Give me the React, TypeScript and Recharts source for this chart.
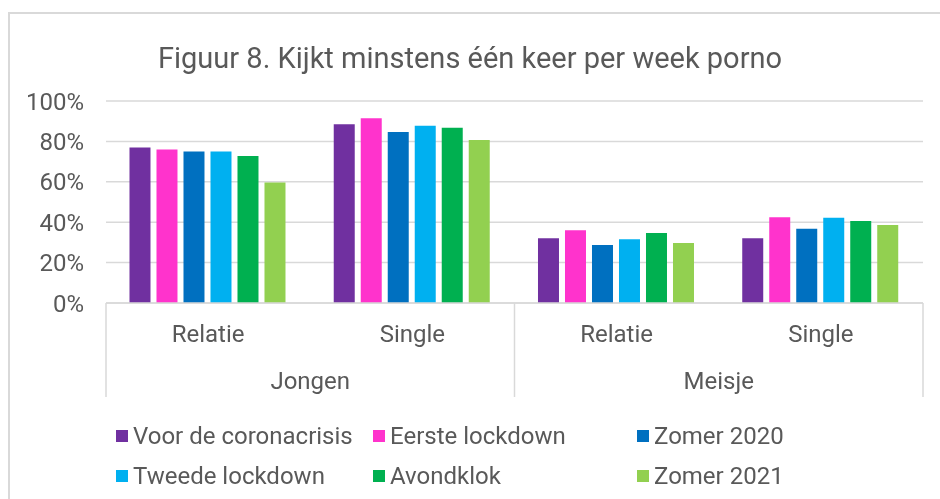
import React from "react";
import { BarChart, Bar, XAxis, YAxis, CartesianGrid, Legend } from "recharts";

const categories = ["Relatie", "Single", "Relatie", "Single"];
const groups = ["Jongen", "Jongen", "Meisje", "Meisje"];
const voorDeCoronacrisis = [77, 88.5, 32, 32];
const eersteLockdown = [76, 91.5, 36, 42.5];
const zomer2020 = [75, 84.7, 28.7, 36.7];
const tweedeLockdown = [75, 87.8, 31.6, 42.2];
const avondklok = [72.8, 86.8, 34.6, 40.6];
const zomer2021 = [59.6, 80.7, 29.7, 38.6];
const yTicks = [0, 20, 40, 60, 80, 100];

const seriesDefs = [
  { key: "v1", name: "Voor de coronacrisis", values: voorDeCoronacrisis, color: "#7030A0" },
  { key: "v2", name: "Eerste lockdown", values: eersteLockdown, color: "#FF33CC" },
  { key: "v3", name: "Zomer 2020", values: zomer2020, color: "#0070C0" },
  { key: "v4", name: "Tweede lockdown", values: tweedeLockdown, color: "#00B0F0" },
  { key: "v5", name: "Avondklok", values: avondklok, color: "#00B050" },
  { key: "v6", name: "Zomer 2021", values: zomer2021, color: "#92D050" },
];

const data = categories.map((c, i) => {
  const row: any = { cat: c, group: groups[i], id: i };
  seriesDefs.forEach((s) => (row[s.key] = s.values[i]));
  return row;
});

const TEXT = "#595959";
const GRID = "#D9D9D9";
const FONT = "Roboto, 'Noto Sans', sans-serif";
const FS = 24;

const CatTick = (props: any) => {
  const { x, y, payload, index, width, visibleTicksCount } = props;
  const n = visibleTicksCount || categories.length;
  const band = width ? width / n : 204;
  const i = index;
  const elems: any[] = [];
  elems.push(
    <text key="t" x={x} y={y + 31} textAnchor="middle" dominantBaseline="central" fill={TEXT} fontSize={FS} fontFamily={FONT}>
      {payload.value}
    </text>
  );
  const isGroupStart = i === 0 || groups[i] !== groups[i - 1];
  const isLast = i === n - 1;
  if (isGroupStart) {
    elems.push(<line key="l" x1={x - band / 2} x2={x - band / 2} y1={y} y2={y + 94} stroke={GRID} strokeWidth={1.5} />);
    elems.push(
      <text key="g" x={x + band / 2} y={y + 78} textAnchor="middle" dominantBaseline="central" fill={TEXT} fontSize={FS} fontFamily={FONT}>
        {groups[i]}
      </text>
    );
  }
  if (isLast) {
    elems.push(<line key="r" x1={x + band / 2} x2={x + band / 2} y1={y} y2={y + 94} stroke={GRID} strokeWidth={1.5} />);
  }
  return <g>{elems}</g>;
};

const legendPos = [
  { left: 116, top: 33 },
  { left: 373, top: 33 },
  { left: 637, top: 33 },
  { left: 116, top: 73 },
  { left: 373, top: 73 },
  { left: 637, top: 73 },
];

const LegendContent = () => (
  <div style={{ position: "relative", width: 940, height: 96 }}>
    {seriesDefs.map((s, i) => (
      <div
        key={s.key}
        style={{
          position: "absolute",
          left: legendPos[i].left,
          top: legendPos[i].top,
          transform: "translateY(-50%)",
          display: "flex",
          alignItems: "center",
          whiteSpace: "nowrap",
          fontFamily: FONT,
          fontSize: FS,
          color: TEXT,
          lineHeight: "28px",
        }}
      >
        <span style={{ display: "inline-block", width: 12, height: 12, background: s.color, marginRight: 5 }} />
        {s.name}
      </div>
    ))}
  </div>
);

export default function App() {
  return (
    <>
      <div
        style={{
          position: "fixed",
          left: 8,
          top: 12,
          width: 940,
          height: 499,
          borderTop: `2px solid ${GRID}`,
          borderLeft: `2px solid ${GRID}`,
          boxSizing: "border-box",
        }}
      />
      <div style={{ position: "fixed", left: 0, top: 0, width: 940, height: 499 }}>
        <div
          style={{
            position: "absolute",
            left: 0,
            width: 940,
            top: 38,
            textAlign: "center",
            fontFamily: FONT,
            fontSize: 29,
            color: TEXT,
            lineHeight: "40px",
          }}
        >
          Figuur 8. Kijkt minstens één keer per week porno
        </div>
        <BarChart
          width={940}
          height={499}
          data={data}
          margin={{ top: 101, right: 17, bottom: 0, left: 20 }}
          barCategoryGap="11.5%"
          barGap={6}
        >
          <CartesianGrid vertical={false} stroke={GRID} strokeWidth={1.5} />
          <XAxis
            dataKey="cat"
            interval={0}
            height={100}
            tickLine={false}
            tickSize={0}
            tickMargin={0}
            axisLine={{ stroke: GRID, strokeWidth: 1.5 }}
            tick={<CatTick />}
          />
          <YAxis
            width={86}
            domain={[0, 100]}
            ticks={yTicks}
            tickFormatter={(v: number) => `${v}%`}
            axisLine={false}
            tickLine={false}
            tickSize={0}
            tickMargin={22}
            tick={{ fill: TEXT, fontSize: FS, fontFamily: FONT }}
          />
          <Legend
            verticalAlign="bottom"
            content={<LegendContent />}
            wrapperStyle={{ left: 0, width: 940, height: 96, bottom: 0 }}
          />
          {seriesDefs.map((s) => (
            <Bar key={s.key} dataKey={s.key} name={s.name} fill={s.color} isAnimationActive={false} />
          ))}
        </BarChart>
      </div>
    </>
  );
}
